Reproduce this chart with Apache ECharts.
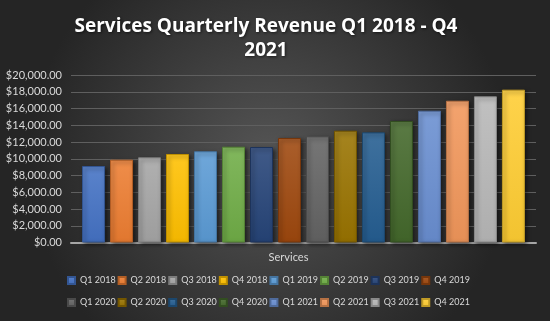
<!DOCTYPE html>
<html>
<head>
<meta charset="utf-8">
<script src="https://cdn.jsdelivr.net/npm/echarts@6/dist/echarts.min.js"></script>
<style>
  html, body { margin: 0; padding: 0; background: #262626; }
  #chart { width: 550px; height: 321px; }
</style>
</head>
<body>
<div id="chart"></div>
<script>
// Quarterly services revenue, one series per quarter
const categories = ['Services'];
const quarters = [
  'Q1 2018', 'Q2 2018', 'Q3 2018', 'Q4 2018',
  'Q1 2019', 'Q2 2019', 'Q3 2019', 'Q4 2019',
  'Q1 2020', 'Q2 2020', 'Q3 2020', 'Q4 2020',
  'Q1 2021', 'Q2 2021', 'Q3 2021', 'Q4 2021'
];
const revenue = [
  9130, 9890, 10170, 10570,
  10890, 11440, 11400, 12480,
  12680, 13350, 13150, 14510,
  15740, 16930, 17450, 18250
];
const yTicks = { min: 0, max: 20000, interval: 2000 };

// Office palette: base, accent variants
const colors = [
  '#4472C4', '#ED7D31', '#A5A5A5', '#FFC000',
  '#5B9BD5', '#70AD47', '#264478', '#9E480E',
  '#636363', '#997300', '#255E91', '#43682B',
  '#698ED0', '#F1975A', '#B7B7B7', '#FFCD33'
];

function shade(hex, amt) {
  const n = parseInt(hex.slice(1), 16);
  let r = (n >> 16) & 255, g = (n >> 8) & 255, b = n & 255;
  const f = c => Math.max(0, Math.min(255, Math.round(amt >= 0 ? c + (255 - c) * amt : c * (1 + amt))));
  return 'rgb(' + f(r) + ',' + f(g) + ',' + f(b) + ')';
}

const font = 'Lato, "Open Sans", sans-serif';

const series = quarters.map((q, i) => ({
  name: q,
  type: 'bar',
  data: [revenue[i]],
  barWidth: 23,
  barGap: '21.7%',
  itemStyle: {
    color: {
      type: 'linear', x: 0, y: 0, x2: 0, y2: 1,
      colorStops: [
        { offset: 0, color: shade(colors[i], 0.12) },
        { offset: 1, color: shade(colors[i], -0.05) }
      ]
    },
    borderColor: shade(colors[i], -0.25),
    borderWidth: 1,
    shadowColor: 'rgba(0,0,0,0.55)',
    shadowBlur: 4,
    shadowOffsetX: 2,
    shadowOffsetY: 2
  }
}));

const legendStyle = {
  icon: 'rect',
  itemWidth: 7,
  itemHeight: 7,
  itemGap: 2,
  padding: 0,
  textStyle: { color: '#d9d9d9', fontSize: 9, fontFamily: font }
};

const titleFont = { size: 19, family: '"Open Sans", Lato, sans-serif' };

const chart = echarts.init(document.getElementById('chart'));
chart.setOption({
  backgroundColor: {
    type: 'radial', x: 0.49, y: 0.5, r: 0.75,
    colorStops: [
      { offset: 0, color: '#555555' },
      { offset: 1, color: '#252525' }
    ]
  },
  animation: false,
  color: colors,
  title: {
    text: 'Services Quarterly Revenue Q1 2018 - Q4\n2021',
    left: 261,
    textAlign: 'center',
    top: 10,
    textStyle: {
      color: '#ffffff',
      fontSize: titleFont.size,
      fontWeight: 'bold',
      fontFamily: titleFont.family,
      lineHeight: 24,
      textShadowColor: 'rgba(0,0,0,0.6)',
      textShadowBlur: 3,
      textShadowOffsetX: 1,
      textShadowOffsetY: 1
    }
  },
  legend: [
    Object.assign({}, legendStyle, { data: quarters.slice(0, 8), top: 276, left: 67 }),
    Object.assign({}, legendStyle, { data: quarters.slice(8), top: 298, left: 67 })
  ],
  grid: { left: 71, right: 14, top: 75, bottom: 78.5 },
  xAxis: {
    type: 'category',
    data: categories,
    axisLine: { lineStyle: { color: '#a6a6a6', width: 2 } },
    axisTick: { show: false },
    axisLabel: { color: '#d9d9d9', fontSize: 11, fontFamily: font, margin: 9, padding: [0, 30, 0, 0] }
  },
  yAxis: {
    type: 'value',
    min: yTicks.min,
    max: yTicks.max,
    interval: yTicks.interval,
    axisLine: { show: false },
    axisTick: { show: false },
    splitLine: { lineStyle: { color: '#5f5f5f', width: 1 } },
    axisLabel: {
      color: '#d9d9d9',
      fontSize: 11,
      fontFamily: font,
      margin: 9,
      formatter: v => '$' + v.toLocaleString('en-US', { minimumFractionDigits: 2, maximumFractionDigits: 2 })
    }
  },
  series: series
});
</script>
</body>
</html>
